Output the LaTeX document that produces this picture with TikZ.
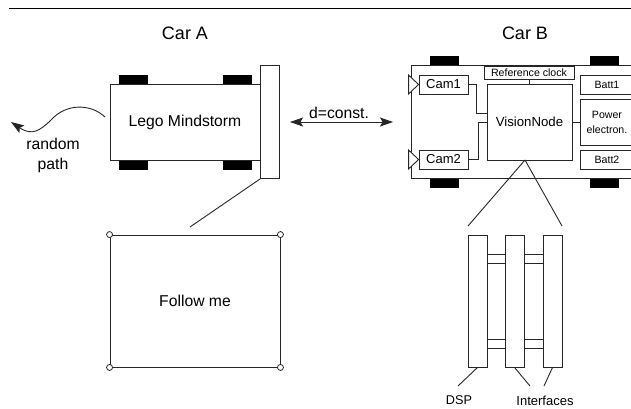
\documentclass[tikz,border=0pt]{standalone}
\usepackage{fontspec}
\setmainfont{Liberation Sans}
\usepackage{tikz}
\usetikzlibrary{positioning, arrows.meta, calc}

\begin{document}
\begin{tikzpicture}[
    x=1pt, y=-1pt,
    >={Stealth[length=13pt,width=9pt,inset=2.5pt]},
    linestyle/.style={draw=black!85, line width=0.9pt},
    box/.style={rectangle, draw=black!85, fill=white, line width=0.9pt, inner sep=0pt, align=center},
    wheel/.style={rectangle, fill=black, minimum width=29pt, minimum height=10pt, inner sep=0pt},
    corner/.style={circle, draw=black!85, fill=white, line width=0.8pt, minimum size=6pt, inner sep=0pt},
    titlelabel/.style={font=\fontsize{18}{20}\selectfont},
    biglabel/.style={font=\fontsize{15.7}{20}\selectfont, align=center},
    midlabel/.style={font=\fontsize{13}{15}\selectfont},
    smalllabel/.style={font=\fontsize{10.6}{15}\selectfont, align=center}
]
\useasboundingbox (0,0) rectangle (631,408);
\clip (0,0) rectangle (631,408);

% Top rule
\coordinate (ruleleft) at (9,8);
\coordinate (ruleright) at (631,8);
\draw[line width=0.9pt] (ruleleft) -- (ruleright);

% Titles
\node[titlelabel] (titleA) at (185,33) {Car A};
\node[titlelabel] (titleB) at (525,33) {Car B};

% Car A wheels
\node[wheel] (wa1) at (133.5,79.5) {};
\node[wheel] (wa2) at (237.5,79.5) {};
\node[wheel] (wa3) at (133.5,165) {};
\node[wheel] (wa4) at (237.5,165) {};

% Car A body and bumper
\node[box, biglabel, minimum width=150pt, minimum height=76pt] (bodyA) at (185,122) {Lego Mindstorm};
\node[box, minimum width=19pt, minimum height=113pt] (bumper) at (270,122) {};

% Random path
\coordinate (pathstart) at (105,117);
\coordinate (pathend) at (11,122);
\draw[->, linestyle] (pathstart) .. controls (90,103) and (66,104) .. (52,119)
    .. controls (40,131) and (32,136) .. (pathend);
\node[biglabel] (pathlabel) at (53,155.5) {random\\path};

% Follow me board
\node[box, biglabel, minimum width=170pt, minimum height=132pt] (board) at (195,301) {Follow me};
\node[corner] (c1) at (board.north west) {};
\node[corner] (c2) at (board.north east) {};
\node[corner] (c3) at (board.south west) {};
\node[corner] (c4) at (board.south east) {};
\coordinate (boardtip) at (190,227);
\draw[linestyle] (bumper.south west) -- (boardtip);

% Distance between the cars
\coordinate (distleft) at (290,122);
\coordinate (distright) at (393,122);
\draw[<->, linestyle] (distleft) -- (distright);
\node[biglabel] (distlabel) at (339,113) {d=const.};

% Car B wheels
\node[wheel] (wb1) at (444.5,60.5) {};
\node[wheel] (wb2) at (604.5,60.5) {};
\node[wheel] (wb3) at (444.5,183) {};
\node[wheel] (wb4) at (604.5,183) {};

% Car B body, open to the right
\node[box, minimum width=240pt, minimum height=113pt] (bodyB) at (531,121.5) {};

% Cameras
\node[box, midlabel, minimum width=49pt, minimum height=19pt] (cam1) at (443.5,84.5) {Cam1};
\node[box, midlabel, minimum width=49pt, minimum height=19pt] (cam2) at (443.5,159.5) {Cam2};
\draw[linestyle, fill=white] (cam1.west) -- ++(-10,-9.5) -- ++(0,19) -- cycle;
\draw[linestyle, fill=white] (cam2.west) -- ++(-10,-9.5) -- ++(0,19) -- cycle;

% Vision node and its neighbours
\node[box, font=\fontsize{13.2}{15}\selectfont, minimum width=85pt, minimum height=76pt] (vision) at (529.5,122) {VisionNode};
\node[box, smalllabel, minimum width=90pt, minimum height=13pt] (clock) at (529,72.5) {Reference clock};
\node[box, smalllabel, minimum width=54pt, minimum height=19pt] (batt1) at (607,84.5) {Batt1};
\node[box, smalllabel, minimum width=54pt, minimum height=46pt] (power) at (607,122) {Power\\electron.};
\node[box, smalllabel, minimum width=54pt, minimum height=19pt] (batt2) at (607,159.5) {Batt2};

% Wiring
\draw[linestyle] (clock.south) -- (vision.north -| clock.south);
\draw[linestyle] (cam1.east) -| (476,113) -- (vision.west |- 476,113);
\draw[linestyle] (cam2.east) -| (478,122) -- (vision.west);
\draw[linestyle] (vision.east) -- (power.west);

% DSP stack
\node[box, minimum width=19pt, minimum height=132pt] (dsp) at (477.5,301) {};
\node[box, minimum width=19pt, minimum height=132pt] (iface1) at (514.5,301) {};
\node[box, minimum width=19pt, minimum height=132pt] (iface2) at (552.5,301) {};

% Links between the boards
\node[box, minimum width=18pt, minimum height=9pt] (link1) at (496,258.5) {};
\node[box, minimum width=19pt, minimum height=9pt] (link2) at (533.5,258.5) {};
\node[box, minimum width=18pt, minimum height=9pt] (link3) at (496,343.5) {};
\node[box, minimum width=19pt, minimum height=9pt] (link4) at (533.5,343.5) {};

% Zoom lines
\coordinate (zoomtip) at (525,160);
\coordinate (zoomleft) at (468,226);
\coordinate (zoomright) at (562,226);
\draw[linestyle] (zoomtip) -- (zoomleft);
\draw[linestyle] (zoomtip) -- (zoomright);

% Stack labels
\node[font=\fontsize{12.7}{15}\selectfont] (dsplabel) at (459,400) {DSP};
\node[midlabel] (ifacelabel) at (545,401) {Interfaces};
\coordinate (dsptip) at (458,386);
\coordinate (ifacetip1) at (530,386);
\coordinate (ifacetip2) at (544,386);
\draw[linestyle] (dsp.south) -- (dsptip);
\draw[linestyle] (iface1.south) -- (ifacetip1);
\draw[linestyle] (iface2.south) -- (ifacetip2);

\end{tikzpicture}
\end{document}
